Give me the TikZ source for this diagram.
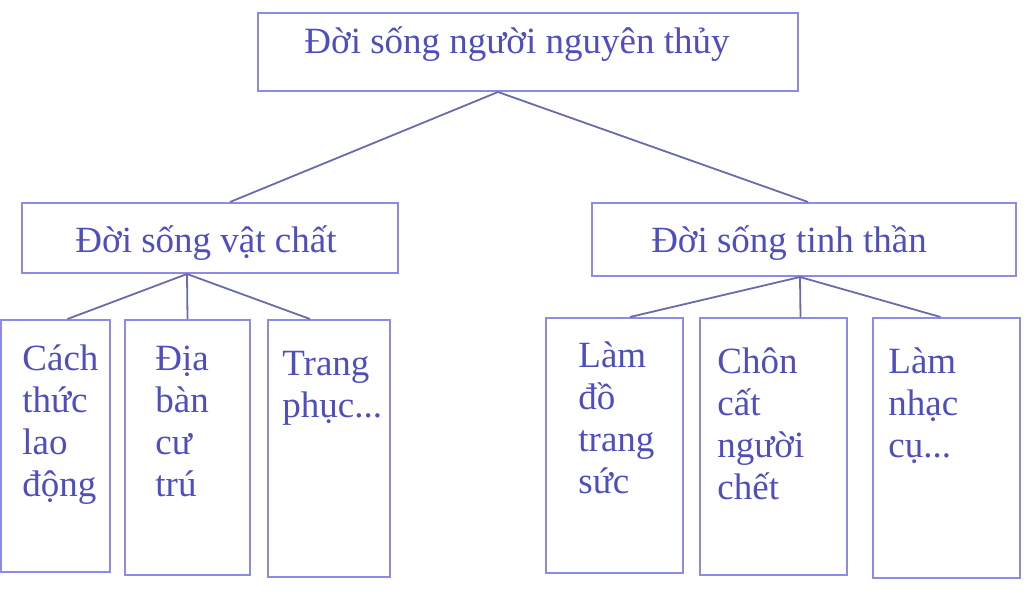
\documentclass[tikz,border=0pt]{standalone}
\usepackage{fontspec}
\setmainfont{Liberation Serif}
\definecolor{boxblue}{HTML}{8C8CE6}
\definecolor{textblue}{HTML}{4E4EBE}
\definecolor{lineblue}{HTML}{6A6AAE}
\tikzset{
  box/.style={draw=boxblue, line width=1pt, rectangle, inner sep=0pt},
  boxtext/.style={text=textblue, anchor=base, inner sep=0pt, font=\fontsize{18.5}{21}\selectfont},
  leaftext/.style={text=textblue, align=left, anchor=north west, inner sep=0pt, font=\fontsize{18.5}{21}\selectfont},
  link/.style={lineblue, line width=0.9pt}
}
\newcommand{\topstrut}{\rule{0pt}{16pt}}

\begin{document}
\begin{tikzpicture}[x=0.5pt,y=-0.5pt]
\useasboundingbox (0,0) rectangle (1024,594);
%top
\node[box, minimum width=270pt, minimum height=39pt] (root) at (528,52) {};
%middle
\node[box, minimum width=188pt, minimum height=35pt] (vatchat) at (210,238) {};
\node[box, minimum width=212pt, minimum height=36.5pt] (tinhthan) at (804,239.5) {};
%leaves left
\node[box, minimum width=54.5pt, minimum height=126pt] (cachthuc) at (55.5,446) {};
\node[box, minimum width=62.5pt, minimum height=127.5pt] (diaban) at (187.5,447.5) {};
\node[box, minimum width=61pt, minimum height=128.5pt] (trangphuc) at (329,448.5) {};
%leaves right
\node[box, minimum width=68.5pt, minimum height=127.5pt] (lamdo) at (614.5,445.5) {};
\node[box, minimum width=73.5pt, minimum height=128.5pt] (choncat) at (773.5,446.5) {};
\node[box, minimum width=73.5pt, minimum height=130pt] (nhaccu) at (946.5,448) {};
%box texts
\node[boxtext] (roottext) at (517,54) {Đời sống người nguyên thủy};
\node[boxtext] (vatchattext) at (206,252) {Đời sống vật chất};
\node[boxtext] (tinhthantext) at (789,252) {Đời sống tinh thần};
%leaf texts
\node[leaftext] (cachthuctext) at (22,338) {\topstrut Cách\\thức\\lao\\động};
\node[leaftext] (diabantext) at (155,338) {\topstrut Địa\\bàn\\cư\\trú};
\node[leaftext] (trangphuctext) at (282,343) {\topstrut Trang\\phục...};
\node[leaftext] (lamdotext) at (578,335) {\topstrut Làm\\đồ\\trang\\sức};
\node[leaftext] (choncattext) at (717,341) {\topstrut Chôn\\cất\\người\\chết};
\node[leaftext] (nhaccutext) at (888,341) {\topstrut Làm\\nhạc\\cụ...};
%lines
\draw[link] ([xshift=-15pt]root.south) -- ([xshift=10pt]vatchat.north);
\draw[link] ([xshift=-15pt]root.south) -- ([xshift=2pt]tinhthan.north);
\draw[link] ([xshift=-11.5pt]vatchat.south) -- ([xshift=6pt]cachthuc.north);
\draw[link] ([xshift=-11.5pt]vatchat.south) -- (diaban.north);
\draw[link] ([xshift=-11.5pt]vatchat.south) -- ([xshift=-9.5pt]trangphuc.north);
\draw[link] ([xshift=-2pt]tinhthan.south) -- ([xshift=7.75pt]lamdo.north);
\draw[link] ([xshift=-2pt]tinhthan.south) -- ([xshift=13.5pt]choncat.north);
\draw[link] ([xshift=-2pt]tinhthan.south) -- ([xshift=-3pt]nhaccu.north);
\end{tikzpicture}
\end{document}
